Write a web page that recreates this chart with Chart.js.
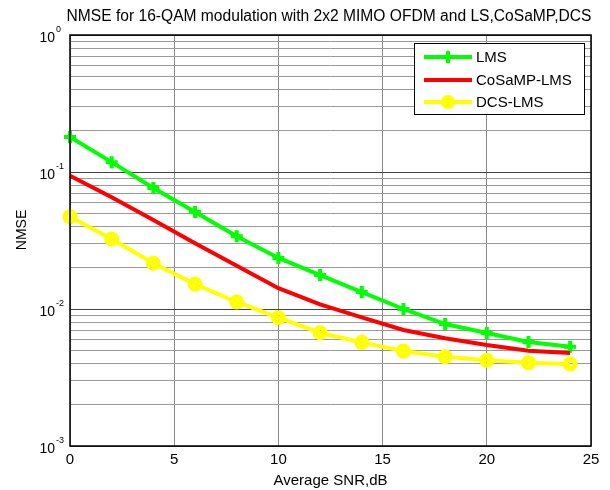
<!DOCTYPE html>
<html>
<head>
<meta charset="utf-8">
<script src="https://cdn.jsdelivr.net/npm/chart.js@4.4.1/dist/chart.umd.min.js"></script>
<style>
  html, body { margin: 0; padding: 0; background: #fff; }
  #wrap { width: 610px; height: 490px; position: relative; }
</style>
</head>
<body>
<div id="wrap"><canvas id="c" width="610" height="490"></canvas></div>
<script>
// ---- data ----
const snr = [0, 2, 4, 6, 8, 10, 12, 14, 16, 18, 20, 22, 24];
const lms = [0.180, 0.118, 0.0764, 0.0510, 0.0340, 0.0236, 0.0177, 0.0133, 0.0100, 0.00777, 0.00668, 0.00575, 0.00530];
const cosampLms = [0.094, 0.0654, 0.0446, 0.0302, 0.0207, 0.0142, 0.0108, 0.00869, 0.00703, 0.00611, 0.00546, 0.00496, 0.00477];
const dcsLms = [0.0472, 0.0324, 0.0216, 0.0152, 0.01125, 0.00864, 0.00671, 0.00571, 0.00493, 0.00449, 0.00422, 0.00406, 0.00397];
const seriesNames = ['LMS', 'CoSaMP-LMS', 'DCS-LMS'];
const xTicks = [0, 5, 10, 15, 20, 25];
const yExponents = [0, -1, -2, -3];
const titleText = 'NMSE for 16-QAM modulation with 2x2 MIMO OFDM and LS,CoSaMP,DCS';
const xLabel = 'Average SNR,dB';
const yLabel = 'NMSE';

const FONT = '"Liberation Sans", Arial, Helvetica, sans-serif';

function pts(ys) { return snr.map((x, i) => ({ x: x, y: ys[i] })); }

// log ticks 1..9 per decade
const yTickVals = [];
for (let e = -3; e <= 0; e++) {
  for (let m = 1; m <= 9; m++) {
    const v = m * Math.pow(10, e);
    if (v <= 1.0000001) yTickVals.push(v);
  }
}

const styles = [
  { color: '#00ff00', pointStyle: 'cross', radius: 6, pbw: 4 },
  { color: '#ff0000', pointStyle: false, radius: 0, pbw: 0 },
  { color: '#ffff00', pointStyle: 'circle', radius: 5, pbw: 5 }
];

const overlay = {
  id: 'overlay',
  afterDraw(chart) {
    const ctx = chart.ctx;
    const ca = chart.chartArea;
    const xs = chart.scales.x, ys = chart.scales.y;
    ctx.save();
    // box
    ctx.strokeStyle = '#000';
    ctx.lineWidth = 1.5;
    ctx.strokeRect(ca.left, ca.top, ca.right - ca.left, ca.bottom - ca.top);

    ctx.fillStyle = '#000';
    // x tick labels
    ctx.font = '15px ' + FONT;
    ctx.textAlign = 'center';
    ctx.textBaseline = 'middle';
    xTicks.forEach(t => {
      ctx.fillText(String(t), xs.getPixelForValue(t), 460);
    });
    // y tick labels with superscripts
    yExponents.forEach(e => {
      const y = ys.getPixelForValue(Math.pow(10, e));
      ctx.font = '14px ' + FONT;
      ctx.textAlign = 'right';
      ctx.textBaseline = 'middle';
      ctx.fillText('10', 55, y + 3);
      ctx.font = '9px ' + FONT;
      ctx.textAlign = 'left';
      ctx.fillText(String(e), 56, y - 5);
    });
    // title
    ctx.font = '15.6px ' + FONT;
    ctx.textAlign = 'center';
    ctx.textBaseline = 'alphabetic';
    ctx.fillText(titleText, 329, 21);
    // x label
    ctx.font = '15px ' + FONT;
    ctx.textBaseline = 'middle';
    ctx.fillText(xLabel, (ca.left + ca.right) / 2, 481);
    // y label
    ctx.save();
    ctx.translate(22, 230);
    ctx.rotate(-Math.PI / 2);
    ctx.font = '14px ' + FONT;
    ctx.textAlign = 'center';
    ctx.textBaseline = 'middle';
    ctx.fillText(yLabel, 0, 0);
    ctx.restore();

    // legend
    const lx = 414, ly = 43, lw = 170, lh = 71;
    ctx.fillStyle = '#fff';
    ctx.fillRect(lx, ly, lw, lh);
    ctx.strokeStyle = '#000';
    ctx.lineWidth = 1;
    ctx.strokeRect(lx + 0.5, ly + 0.5, lw, lh);
    const rows = [57, 80, 102];
    seriesNames.forEach((name, i) => {
      const st = styles[i];
      const y = rows[i];
      ctx.strokeStyle = st.color;
      ctx.lineWidth = 4;
      ctx.beginPath();
      ctx.moveTo(424, y);
      ctx.lineTo(472, y);
      ctx.stroke();
      if (st.pointStyle === 'cross') {
        ctx.lineWidth = 4;
        ctx.beginPath();
        ctx.moveTo(448 - 6, y); ctx.lineTo(448 + 6, y);
        ctx.moveTo(448, y - 6); ctx.lineTo(448, y + 6);
        ctx.stroke();
      } else if (st.pointStyle === 'circle') {
        ctx.fillStyle = st.color;
        ctx.beginPath();
        ctx.arc(448, y, 7, 0, Math.PI * 2);
        ctx.fill();
      }
      ctx.fillStyle = '#000';
      ctx.font = '15px ' + FONT;
      ctx.textAlign = 'left';
      ctx.textBaseline = 'middle';
      ctx.fillText(name, 476, y + 1);
    });
    ctx.restore();
  }
};

const series = [lms, cosampLms, dcsLms];
new Chart(document.getElementById('c'), {
  type: 'line',
  data: {
    datasets: series.map((s, i) => ({
      label: seriesNames[i],
      data: pts(s),
      borderColor: styles[i].color,
      backgroundColor: 'rgba(0,0,0,0)',
      borderWidth: 4,
      pointStyle: styles[i].pointStyle,
      pointRadius: styles[i].radius,
      pointBorderWidth: styles[i].pbw,
      pointBorderColor: styles[i].color,
      pointBackgroundColor: 'rgba(0,0,0,0)',
      tension: 0,
      clip: false,
      order: 2 - i
    }))
  },
  options: {
    responsive: false,
    animation: false,
    devicePixelRatio: 1,
    layout: { padding: { left: 70, top: 35, right: 19, bottom: 44 } },
    plugins: { legend: { display: false }, title: { display: false }, tooltip: { enabled: false } },
    scales: {
      x: {
        type: 'linear', min: 0, max: 25,
        afterBuildTicks: s => { s.ticks = xTicks.map(v => ({ value: v })); },
        ticks: { display: false },
        grid: { color: '#8a8a8a', lineWidth: 1, drawTicks: false },
        border: { display: false }
      },
      y: {
        type: 'logarithmic', min: 0.001, max: 1,
        afterBuildTicks: s => { s.ticks = yTickVals.map(v => ({ value: v })); },
        ticks: { display: false },
        grid: {
          drawTicks: false,
          lineWidth: 1,
          color: c => {
            const v = c.tick ? c.tick.value : 0;
            const l = Math.log10(v);
            return Math.abs(l - Math.round(l)) < 1e-6 ? '#444' : '#9a9a9a';
          }
        },
        border: { display: false }
      }
    }
  },
  plugins: [overlay]
});
</script>
</body>
</html>
